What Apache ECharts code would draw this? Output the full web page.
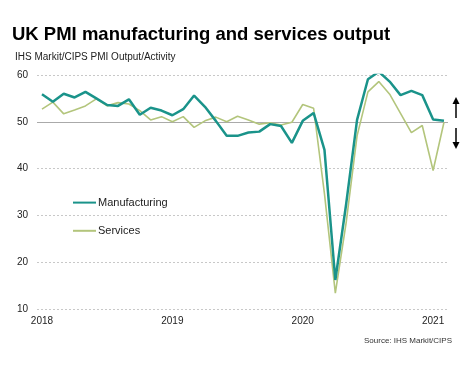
<!DOCTYPE html>
<html>
<head>
<meta charset="utf-8">
<script src="https://cdn.jsdelivr.net/npm/echarts@6/dist/echarts.min.js"></script>
<style>
html,body{margin:0;padding:0;background:#fff;}
#chart{width:473px;height:367px;}
</style>
</head>
<body>
<div id="chart"></div>
<script>
// Monthly observations, Jan 2018 – Feb 2021
var months = [
  '2018-01','2018-02','2018-03','2018-04','2018-05','2018-06','2018-07','2018-08','2018-09','2018-10','2018-11','2018-12',
  '2019-01','2019-02','2019-03','2019-04','2019-05','2019-06','2019-07','2019-08','2019-09','2019-10','2019-11','2019-12',
  '2020-01','2020-02','2020-03','2020-04','2020-05','2020-06','2020-07','2020-08','2020-09','2020-10','2020-11','2020-12',
  '2021-01','2021-02'
];
var manufacturing = [
  55.9, 54.3, 56.0, 55.2, 56.4, 55.0, 53.6, 53.4, 54.8, 51.5, 53.0, 52.4,
  51.4, 52.7, 55.6, 53.2, 50.2, 47.0, 47.0, 47.7, 47.9, 49.5, 49.1, 45.5,
  50.2, 51.9, 44.0, 16.2, 32.5, 50.4, 59.1, 60.7, 58.6, 55.7, 56.6, 55.7,
  50.5, 50.2
];
var services = [
  52.7, 54.2, 51.7, 52.5, 53.4, 54.9, 53.4, 54.1, 53.8, 52.4, 50.4, 51.1,
  50.0, 51.1, 48.8, 50.2, 51.0, 50.0, 51.2, 50.4, 49.5, 49.8, 49.3, 49.9,
  53.7, 52.9, 34.6, 13.4, 28.5, 47.0, 56.4, 58.6, 55.9, 51.8, 47.7, 49.2,
  39.6, 49.9
];
var yearLabels = ['2018', '2019', '2020', '2021'];
var yTicks = [10, 20, 30, 40, 50, 60];

function toPairs(vals) {
  return vals.map(function (v, i) { return [i, v]; });
}
var yearPositions = yearLabels.map(function (y) { return months.indexOf(y + '-01'); });

var chart = echarts.init(document.getElementById('chart'), null, {renderer: 'canvas'});
var font = 'Liberation Sans, Arial, sans-serif';
chart.setOption({
  animation: false,
  textStyle: {fontFamily: font},
  title: [
    {text: 'UK PMI manufacturing and services output', left: 7, top: 20,
     textStyle: {fontSize: 18.5, fontWeight: 'bold', color: '#000', fontFamily: font}},
    {text: 'IHS Markit/CIPS PMI Output/Activity', left: 10, top: 47,
     textStyle: {fontSize: 10, fontWeight: 'normal', color: '#222', fontFamily: font}},
    {text: 'Source: IHS Markit/CIPS', right: 16, top: 332,
     textStyle: {fontSize: 8, fontWeight: 'normal', color: '#333', fontFamily: font}}
  ],
  legend: {
    orient: 'vertical', left: 67, top: 192,
    itemWidth: 23, itemHeight: 14, itemGap: 17,
    itemStyle: {opacity: 0},
    textStyle: {fontSize: 11, color: '#222', fontFamily: font, padding: [0, 0, 0, -3]},
    data: ['Manufacturing', 'Services']
  },
  grid: {left: 37, right: 25, top: 75, bottom: 58, containLabel: false},
  xAxis: {
    type: 'value', min: -0.46, max: months.length - 1 + 0.37,
    axisLine: {show: false}, axisTick: {show: false}, splitLine: {show: false},
    axisLabel: {
      customValues: yearPositions,
      formatter: function (v) { return yearLabels[yearPositions.indexOf(Math.round(v))] || ''; },
      fontSize: 10, color: '#222', margin: 7, fontFamily: font
    }
  },
  yAxis: {
    type: 'value', min: yTicks[0], max: yTicks[yTicks.length - 1], interval: 10,
    axisLine: {show: false}, axisTick: {show: false},
    axisLabel: {fontSize: 10, color: '#222', margin: 9, fontFamily: font},
    splitLine: {show: true, lineStyle: {color: '#c8c8c8', type: [2, 2], width: 1}}
  },
  series: [
    {
      name: 'Services', type: 'line', symbol: 'none', z: 2,
      data: toPairs(services),
      lineStyle: {color: '#b3c57c', width: 1.6},
      itemStyle: {color: '#b3c57c'}
    },
    {
      name: 'Manufacturing', type: 'line', symbol: 'none', z: 3,
      data: toPairs(manufacturing),
      lineStyle: {color: '#1a938a', width: 2.5},
      itemStyle: {color: '#1a938a'},
      markLine: {
        silent: true, symbol: 'none', label: {show: false}, z: 1,
        lineStyle: {color: '#aaaaaa', type: 'solid', width: 1},
        data: [{yAxis: 50}]
      }
    }
  ],
  graphic: [
    {type: 'line', shape: {x1: 456, y1: 102, x2: 456, y2: 118}, style: {stroke: '#000', lineWidth: 1.5}},
    {type: 'polygon', shape: {points: [[452.5, 104], [459.5, 104], [456, 97]]}, style: {fill: '#000'}},
    {type: 'line', shape: {x1: 456, y1: 128, x2: 456, y2: 144}, style: {stroke: '#000', lineWidth: 1.5}},
    {type: 'polygon', shape: {points: [[452.5, 142], [459.5, 142], [456, 149]]}, style: {fill: '#000'}}
  ]
});
</script>
</body>
</html>
